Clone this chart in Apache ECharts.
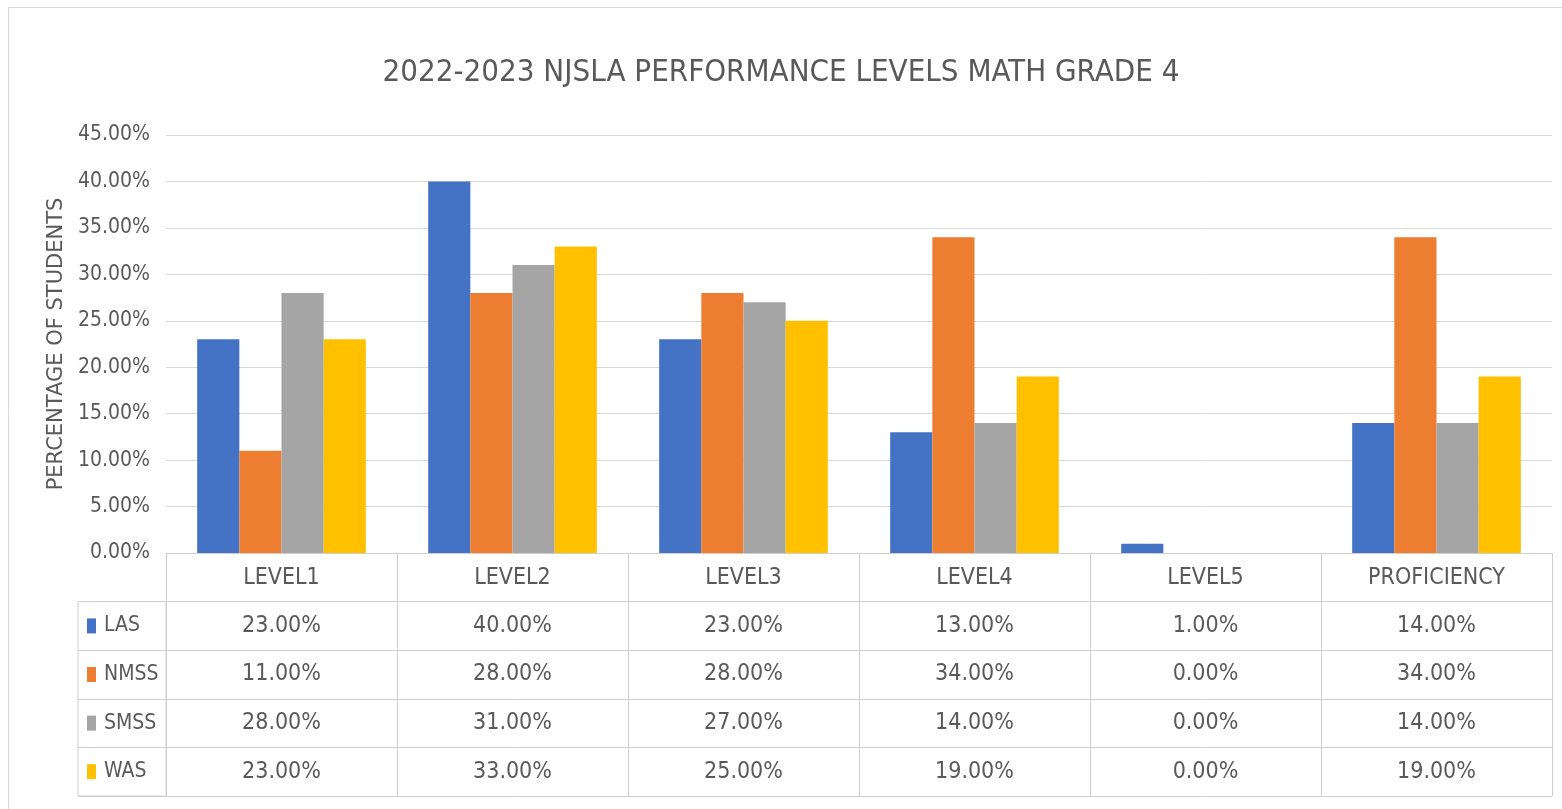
<!DOCTYPE html>
<html>
<head>
<meta charset="utf-8">
<script src="https://cdn.jsdelivr.net/npm/echarts@6/dist/echarts.min.js"></script>
<style>
html,body{margin:0;padding:0;background:#fff;}
#chart{width:1562px;height:809px;}
</style>
</head>
<body>
<div id="chart"></div>
<script>
const title = '2022-2023 NJSLA PERFORMANCE LEVELS MATH GRADE 4';
const yAxisTitle = 'PERCENTAGE OF STUDENTS';
const categories = ['LEVEL1', 'LEVEL2', 'LEVEL3', 'LEVEL4', 'LEVEL5', 'PROFICIENCY'];
const seriesNames = ['LAS', 'NMSS', 'SMSS', 'WAS'];
const LAS  = [23, 40, 23, 13, 1, 14];
const NMSS = [11, 28, 28, 34, 0, 34];
const SMSS = [28, 31, 27, 14, 0, 14];
const WAS  = [23, 33, 25, 19, 0, 19];
const yTicks = {min: 0, max: 45, interval: 5};

const values = [LAS, NMSS, SMSS, WAS];
const colors = ['#4472C4', '#ED7D31', '#A5A5A5', '#FFC000'];
const FONT = "'Liberation Sans Narrow', 'DejaVu Sans Condensed', 'Arial Narrow', sans-serif";
const TXT = '#595959';
const LINE = '#cfcfcf';
const fmt = v => v.toFixed(2) + '%';

const tableTop = 553, tableBottom = 796;
const rowH = (tableBottom - tableTop) / 5;

const chart = echarts.init(document.getElementById('chart'));

const rich = {t: {fontFamily: FONT, fontSize: 21, color: TXT, padding: [0, 0, 0, 8]}};
colors.forEach((c, i) => { rich['m' + i] = {width: 9, height: 15, backgroundColor: c}; });

const barSeries = seriesNames.map((n, i) => ({
  name: n, type: 'bar', xAxisIndex: 0, yAxisIndex: 0,
  data: values[i], barGap: '0%', barCategoryGap: '27%',
  itemStyle: {color: colors[i]}
}));

const tableSeries = seriesNames.map((n, i) => ({
  name: n + ' table', type: 'scatter', xAxisIndex: 1, yAxisIndex: 1,
  symbolSize: 1, itemStyle: {color: 'rgba(0,0,0,0)', opacity: 1}, silent: true,
  data: categories.map((c, j) => [c, n, values[i][j]]),
  label: {show: true, position: 'inside', formatter: p => fmt(p.value[2]),
          fontFamily: FONT, fontSize: 23, color: TXT, opacity: 1}
}));

const option = {
  backgroundColor: '#fff',
  animation: false,
  title: {
    text: title, left: 'center', top: 52,
    textStyle: {fontFamily: FONT, fontSize: 31, fontWeight: 'normal', color: TXT}
  },
  graphic: [{
    type: 'rect', silent: true, z: -10,
    shape: {x: 8.5, y: 7.5, width: 1700, height: 900},
    style: {fill: 'none', stroke: '#d9d9d9', lineWidth: 1}
  }],
  grid: [
    {left: 166, right: 10, top: 135, bottom: 809 - tableTop},
    {left: 166, right: 10, top: tableTop, bottom: 809 - tableBottom},
    {left: 78, width: 88, top: tableTop + rowH, bottom: 809 - tableBottom,
     show: true, borderColor: LINE, borderWidth: 1}
  ],
  xAxis: [
    {type: 'category', gridIndex: 0, data: categories,
     axisLine: {lineStyle: {color: LINE}}, axisTick: {show: false},
     axisLabel: {fontFamily: FONT, fontSize: 23, color: TXT, margin: 14, lineHeight: 23}},
    {type: 'category', gridIndex: 1, data: categories,
     axisLine: {show: false}, axisTick: {show: false}, axisLabel: {show: false},
     splitLine: {show: true, interval: 0, lineStyle: {color: LINE}}},
    {type: 'value', gridIndex: 2, show: false}
  ],
  yAxis: [
    {type: 'value', gridIndex: 0, min: yTicks.min, max: yTicks.max, interval: yTicks.interval,
     axisLabel: {formatter: v => fmt(v), fontFamily: FONT, fontSize: 21, color: TXT, margin: 16},
     axisLine: {show: false}, axisTick: {show: false},
     splitLine: {lineStyle: {color: '#d9d9d9'}},
     name: yAxisTitle, nameLocation: 'middle', nameRotate: 90, nameGap: 96,
     nameTextStyle: {fontFamily: "'DejaVu Sans', sans-serif", fontSize: 21, color: TXT}},
    {type: 'category', gridIndex: 1, inverse: true, data: [''].concat(seriesNames),
     axisLine: {show: false}, axisTick: {show: false}, axisLabel: {show: false},
     splitLine: {show: true, interval: 0, lineStyle: {color: LINE}}},
    {type: 'category', gridIndex: 2, inverse: true, data: seriesNames,
     axisLine: {show: false}, axisTick: {show: false},
     splitLine: {show: true, interval: 0, lineStyle: {color: LINE}},
     axisLabel: {inside: true, margin: 9, align: 'left', rich: rich,
                 formatter: (v, i) => '{m' + i + '|}{t|' + v + '}'}}
  ],
  series: barSeries.concat(tableSeries)
};
chart.setOption(option);
</script>
</body>
</html>
